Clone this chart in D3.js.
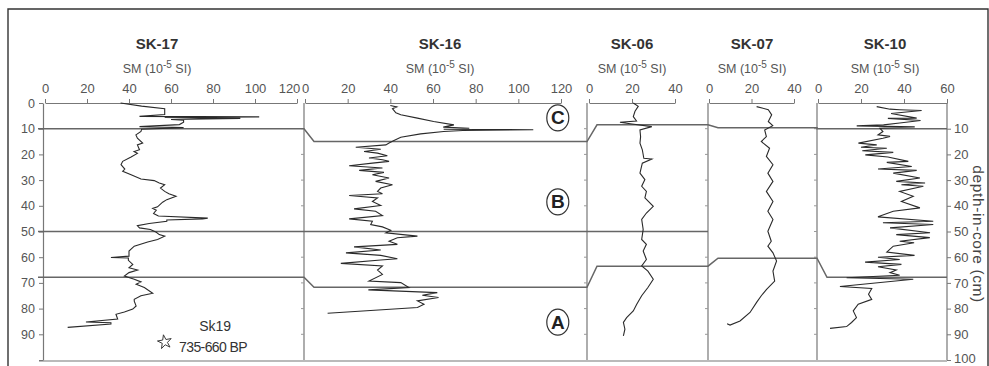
<!DOCTYPE html>
<html><head><meta charset="utf-8">
<script src="https://cdn.jsdelivr.net/npm/d3@7"></script>
<style>body{margin:0;background:#fff}svg{display:block}</style>
</head><body><svg id="c" width="989" height="366"></svg>
<script>
// ---------- data ----------
const cores = ["SK-17", "SK-16", "SK-06", "SK-07", "SK-10"];
const axisMax = [120, 120, 40, 40, 60];
const xTickLabels = [[0,20,40,60,80,100,120],[0,20,40,60,80,100,120],[0,20,40],[0,20,40],[0,20,40,60]];
const depthTicksLeft = [0,10,20,30,40,50,60,70,80,90,100];
const depthTicksRight = [10,20,30,40,50,60,70,80,90,100];
const unitLabel = "SM (10";
const unitExp = "-5";
const unitTail = " SI)";
const depthLabel = "depth-in-core (cm)";

const sk17Depth = [0,1.2,2.2,4.5,5.2,5.4,5.6,6.0,6.4,6.7,
  7.5,8.4,9.2,9.6,10.2,11.1,12.4,13.7,15.6,16.3,
  18.2,18.9,19.6,21,22.7,24,25.7,26.6,27.9,29.6,
  30.2,31.1,31.8,33.1,34.4,35.3,36.3,37.6,38.6,40.4,
  41,41.7,43,44,44.8,45.1,45.5,46,46.9,47.7,
  48.6,49.2,50.3,51.2,51.8,53.1,54.1,55.7,57.6,59.6,
  60.1,60.3,61.2,62.8,64.1,65,66,67.3,68.6,69.6,
  70.5,71.8,74,75,76.4,77.1,79,80.2,81.3,82.2,
  84.1,85.2,85.5,86,87.3];
const sk17SM = [36,46,57,57,45,102,57,93,60,66,
  66,64,45,66,46,45.7,43.3,44,46.5,44,
  45,42.4,44,41,37,36.2,38,37,41,45.7,
  52,54.4,57,55,57,59,62.4,58,56,53.6,
  51.3,53,51.7,54,77.5,75,58,58,49.6,44,
  45,50.2,53,54.4,57,53.6,48.9,42.5,40,40,
  31.4,39.7,39.7,41.8,40,44.1,40,37.8,42.5,45.7,
  43.4,47.3,51.3,45.7,42.5,42.5,43.4,41.8,37.8,33.8,
  34.6,19.5,31.4,31.4,10.8];

const sk16Depth = [1.0,1.5,2.2,3.8,4.6,5.9,7.2,8.5,9.4,9.8,
  10.2,10.4,10.7,11.1,12,13.3,14.6,15.6,16.3,17.2,
  18,18.9,19.5,20.5,21.4,22.1,22.7,23.4,24.4,25.3,
  26.2,27,27.9,29.2,30.5,31.8,33.1,34.4,35.3,36,
  36.9,38.3,39.9,41.2,42.1,43.8,45.1,46,47.3,48.2,
  49.5,50.5,51.8,52.4,53.8,55,56,57.2,58.3,59.3,
  60.6,61.1,62.4,63.4,65,66.7,69.3,69.9,71.8,72.7,
  73.8,74.8,75.7,77,78.3,79.6,81.8];
const sk16SM = [40,43,41,42.6,44.9,52.7,60.3,69.8,64.8,77,
  65,107,74,65,54.2,44.9,41.7,39.4,37.9,23.8,
  35.5,27.7,34,38.6,30,36.3,39.4,31.6,20.7,36.3,
  25.4,37,31.6,39.4,33.1,41,35.5,34,36.3,20.7,
  34,31.6,35.5,23,33.1,36.3,20.7,31.6,30.8,36.3,
  40.2,37.9,52.7,43.3,39.4,43.3,23,35.5,19.2,35.5,
  43.3,35.5,16.8,36.3,34,36.3,30,44.9,48.7,29.7,
  62,55,62.6,52.7,55.8,52.7,10.6];

const sk06Depth = [0,1.3,3.2,5.3,7.0,7.5,8.2,9.2,10.5,13.1,
  15.6,18.2,21.5,21.8,23.4,27.3,29.8,32.4,34.4,36.9,
  40.2,42.8,45.3,49.2,53.1,55,57.6,60.9,63.4,65.4,
  68.6,71.8,75,78.3,80.9,83.5,85.4,88,90.6];
const sk06SM = [20.6,22.9,21.4,20.6,22.1,14.4,20,29.2,23.7,24,
  23.7,24.8,25.5,29.2,24.8,23.7,26,24.5,26.7,26,
  29.9,26.7,24.5,25.2,24.5,26.7,25.2,26.7,24.5,27.4,
  29.9,27.4,24.5,22.2,20.6,17.5,16,16.7,16];

const sk07Depth = [1.4,2.6,4.6,7.2,8.8,10.5,13.1,15,17.6,20.8,
  24,27.3,30.5,34.4,38.3,42.1,45.3,49.9,53.8,55.7,
  58.3,61.5,65.4,69.3,72.5,75,77.6,81.5,84.8,86.4,
  85.9];
const sk07SM = [22.4,27.9,29.5,27.9,30,26.2,27,24.6,28.5,27,
  30.1,27.7,30.1,27,30.1,27.7,30.1,27.7,29.3,27.7,
  30.1,31.8,30.1,30.9,27.1,24.6,22.4,19.3,14.6,9.9,
  8.5];

const sk10Depth = [1.4,2.4,2.6,2.9,4.1,5.9,6.0,6.8,7.8,8.5,
  8.9,9.3,9.8,11.1,12.4,13,13.7,15.6,16.3,17.2,
  17.6,18.6,19.2,20.2,21,22.7,23.1,24.7,25.7,26.2,
  27.3,29.2,30.5,31.1,31.8,32.4,34.4,36.3,38.3,40.8,
  42.1,44.3,46,46.6,47.3,48.6,50.5,51.2,52.4,53.8,
  54.4,55.7,58,59.3,60,60.9,61.9,62.8,63.7,65,
  66,67,68,68.6,71.4,72.2,74.4,76.4,78.3,80.9,
  83.5,85.4,87,87.7];
const sk10SM = [27.3,33.5,38,48.2,34,45.9,32.5,47.7,38,30.5,
  18,45,28.8,30.2,27.9,33.5,30.2,18.8,27.3,20,
  32,20.6,35,22,32.5,42,32,43.6,27.9,45.9,
  35,47.4,36.4,49.8,38.8,49,38,44.3,38.8,47.4,
  35,27.9,53.6,30.2,53.6,33.5,52.1,36.4,52,38,
  44.7,35,32,44.9,27.9,38,21.9,38.8,27.9,36.4,
  33.5,38,13.3,44.3,10.2,25,23.5,25,18.7,16.4,
  17.9,15.6,13.3,5.6];

const seriesDepth = [sk17Depth, sk16Depth, sk06Depth, sk07Depth, sk10Depth];
const seriesSM = [sk17SM, sk16SM, sk06SM, sk07SM, sk10SM];

// zone boundaries (depth, cm) per core
const upperBoundary = [10, 15, 8.5, 9.6, 10];
const middleBoundary = [50, 50, 50, null, null];
const lowerBoundary = [67.8, 71.7, 63.5, 60.4, 67.8];
const zoneNames = ["C", "B", "A"];
const zoneDepths = [5.8, 38.5, 85.3];
const zoneValue = 118.5; // on SK-16 scale
const dateSite = "Sk19";
const dateText = "735-660 BP";

// ---------- layout ----------
const W = 989, H = 366;
const panelLeft  = [43, 304, 587, 708, 817];
const panelRight = [304, 587, 708, 817, 947];
const rangeStart = [45, 305, 589, 709, 818];
const rangeEnd   = [297, 561, 675, 794, 947];
const titleX     = [157, 440, 632, 752, 885];
const yTop = 103, yBot = 360;
const font = "'Liberation Sans', Arial, sans-serif";

const svg = d3.select("#c");
svg.append("rect").attr("width", W).attr("height", H).attr("fill", "#fff");

const y = d3.scaleLinear().domain([0, 100]).range([yTop, yBot]);
const xs = cores.map((c, i) => d3.scaleLinear().domain([0, axisMax[i]]).range([rangeStart[i], rangeEnd[i]]));

// outer frame
svg.append("path").attr("d", `M8,${H+5}V9H988V${H+5}`).attr("fill", "none").attr("stroke", "#333").attr("stroke-width", 1.4);

// titles
cores.forEach((c, i) => {
  svg.append("text").attr("x", titleX[i]).attr("y", 49).attr("text-anchor", "middle")
    .attr("font-family", font).attr("font-weight", "bold").attr("font-size", 15).attr("fill", "#333").text(c);
  const t = svg.append("text").attr("x", titleX[i]).attr("y", 73).attr("text-anchor", "middle")
    .attr("font-family", font).attr("font-size", 12.5).attr("fill", "#555");
  t.append("tspan").text(unitLabel);
  t.append("tspan").attr("dy", -5).attr("font-size", 10).text(unitExp);
  t.append("tspan").attr("dy", 5).text(unitTail);
});

// top axes
cores.forEach((c, i) => {
  const g = svg.append("g").attr("transform", `translate(0,${yTop})`)
    .call(d3.axisTop(xs[i]).tickValues(xTickLabels[i]).tickSize(4).tickSizeOuter(0).tickPadding(6));
  g.select(".domain").attr("stroke", "#777").attr("stroke-width", 1.2);
  g.selectAll(".tick line").attr("stroke", "#777");
  g.selectAll(".tick text").attr("font-family", font).attr("font-size", 13).attr("fill", "#555");
  if (i === 0) g.selectAll(".tick text").filter(d => d === 120).attr("dx", -8);
});

// left axis
const gl = svg.append("g").attr("transform", `translate(${panelLeft[0]},0)`)
  .call(d3.axisLeft(y).tickValues(depthTicksLeft).tickSize(4).tickSizeOuter(0).tickPadding(4)
    .tickFormat(d => d === 100 ? "" : d));
gl.select(".domain").attr("stroke", "#777").attr("stroke-width", 1.2);
gl.selectAll(".tick line").attr("stroke", "#777");
gl.selectAll(".tick text").attr("font-family", font).attr("font-size", 12.5).attr("fill", "#555");

// right axis
const gr = svg.append("g").attr("transform", `translate(${panelRight[4]},0)`)
  .call(d3.axisRight(y).tickValues(depthTicksRight).tickSize(4).tickSizeOuter(0).tickPadding(3));
gr.select(".domain").remove();
gr.selectAll(".tick line").attr("stroke", "#777");
gr.selectAll(".tick text").attr("font-family", font).attr("font-size", 13).attr("fill", "#555");
gr.selectAll(".tick text").filter(d => d === 100).attr("dy", "0.2em");
svg.append("line").attr("x1", panelRight[4]).attr("x2", panelRight[4]).attr("y1", yTop).attr("y2", yBot)
  .attr("stroke", "#777").attr("stroke-width", 1.2);

svg.append("text").attr("transform", `translate(973,${y(51)}) rotate(90)`).attr("text-anchor", "middle")
  .attr("font-family", font).attr("font-size", 15.5).attr("fill", "#444").attr("letter-spacing", 0.6).text(depthLabel);

// panel dividers
panelLeft.slice(1).forEach(px => {
  svg.append("line").attr("x1", px).attr("x2", px).attr("y1", yTop).attr("y2", yBot)
    .attr("stroke", "#777").attr("stroke-width", 1.2);
  depthTicksRight.slice(0, 9).forEach(d => {
    svg.append("line").attr("x1", px - 3).attr("x2", px).attr("y1", y(d)).attr("y2", y(d))
      .attr("stroke", "#999").attr("stroke-width", 1);
  });
});
// bottom line
svg.append("line").attr("x1", panelLeft[0] - 4).attr("x2", panelRight[4]).attr("y1", yBot + 1).attr("y2", yBot + 1)
  .attr("stroke", "#777").attr("stroke-width", 1.2);

// zone boundaries
function boundaryPath(depths) {
  const pts = [];
  const slant = 10;
  depths.forEach((d, i) => {
    if (d == null) return;
    const prev = i > 0 ? depths[i - 1] : null;
    const x0 = (prev != null && Math.abs(prev - d) > 0.8) ? panelLeft[i] + slant : panelLeft[i];
    if (pts.length === 0) pts.push([panelLeft[i] - 5, y(d)]);
    pts.push([x0, y(d)]);
    pts.push([panelRight[i], y(d)]);
  });
  return d3.line()(pts);
}
[upperBoundary, middleBoundary, lowerBoundary].forEach(b => {
  svg.append("path").attr("d", boundaryPath(b)).attr("fill", "none")
    .attr("stroke", "#666").attr("stroke-width", 1.5);
});

// series lines
cores.forEach((c, i) => {
  const pts = d3.zip(seriesDepth[i], seriesSM[i]);
  const line = d3.line().x(p => xs[i](p[1])).y(p => y(p[0]));
  svg.append("path").attr("d", line(pts)).attr("fill", "none")
    .attr("stroke", "#2a2a2a").attr("stroke-width", 1.1).attr("stroke-linejoin", "miter");
});

// zone labels
zoneNames.forEach((z, k) => {
  const cx = xs[1](zoneValue), cy = y(zoneDepths[k]);
  svg.append("ellipse").attr("cx", cx).attr("cy", cy).attr("rx", 11).attr("ry", 13)
    .attr("fill", "#fff").attr("stroke", "#333").attr("stroke-width", 1.2);
  svg.append("text").attr("x", cx).attr("y", cy + 6.5).attr("text-anchor", "middle")
    .attr("font-family", font).attr("font-weight", "bold").attr("font-size", 19).attr("fill", "#222").text(z);
});

// date annotation
svg.append("text").attr("x", xs[0](81)).attr("y", y(86.8) + 5).attr("text-anchor", "middle")
  .attr("font-family", "'Liberation Sans Narrow', 'Liberation Sans', Arial, sans-serif")
  .attr("font-size", 14).attr("fill", "#333").text(dateSite);
svg.append("text").attr("x", xs[0](80)).attr("y", y(95) + 5).attr("text-anchor", "middle")
  .attr("font-family", "'Liberation Sans Narrow', 'Liberation Sans', Arial, sans-serif")
  .attr("font-size", 14).attr("letter-spacing", -0.6).attr("fill", "#333").text(dateText);
svg.append("path").attr("d", d3.symbol(d3.symbolStar, 60)())
  .attr("transform", `translate(${xs[0](57)},${y(93)}) rotate(-10)`)
  .attr("fill", "none").attr("stroke", "#333").attr("stroke-width", 0.9);
</script></body></html>
